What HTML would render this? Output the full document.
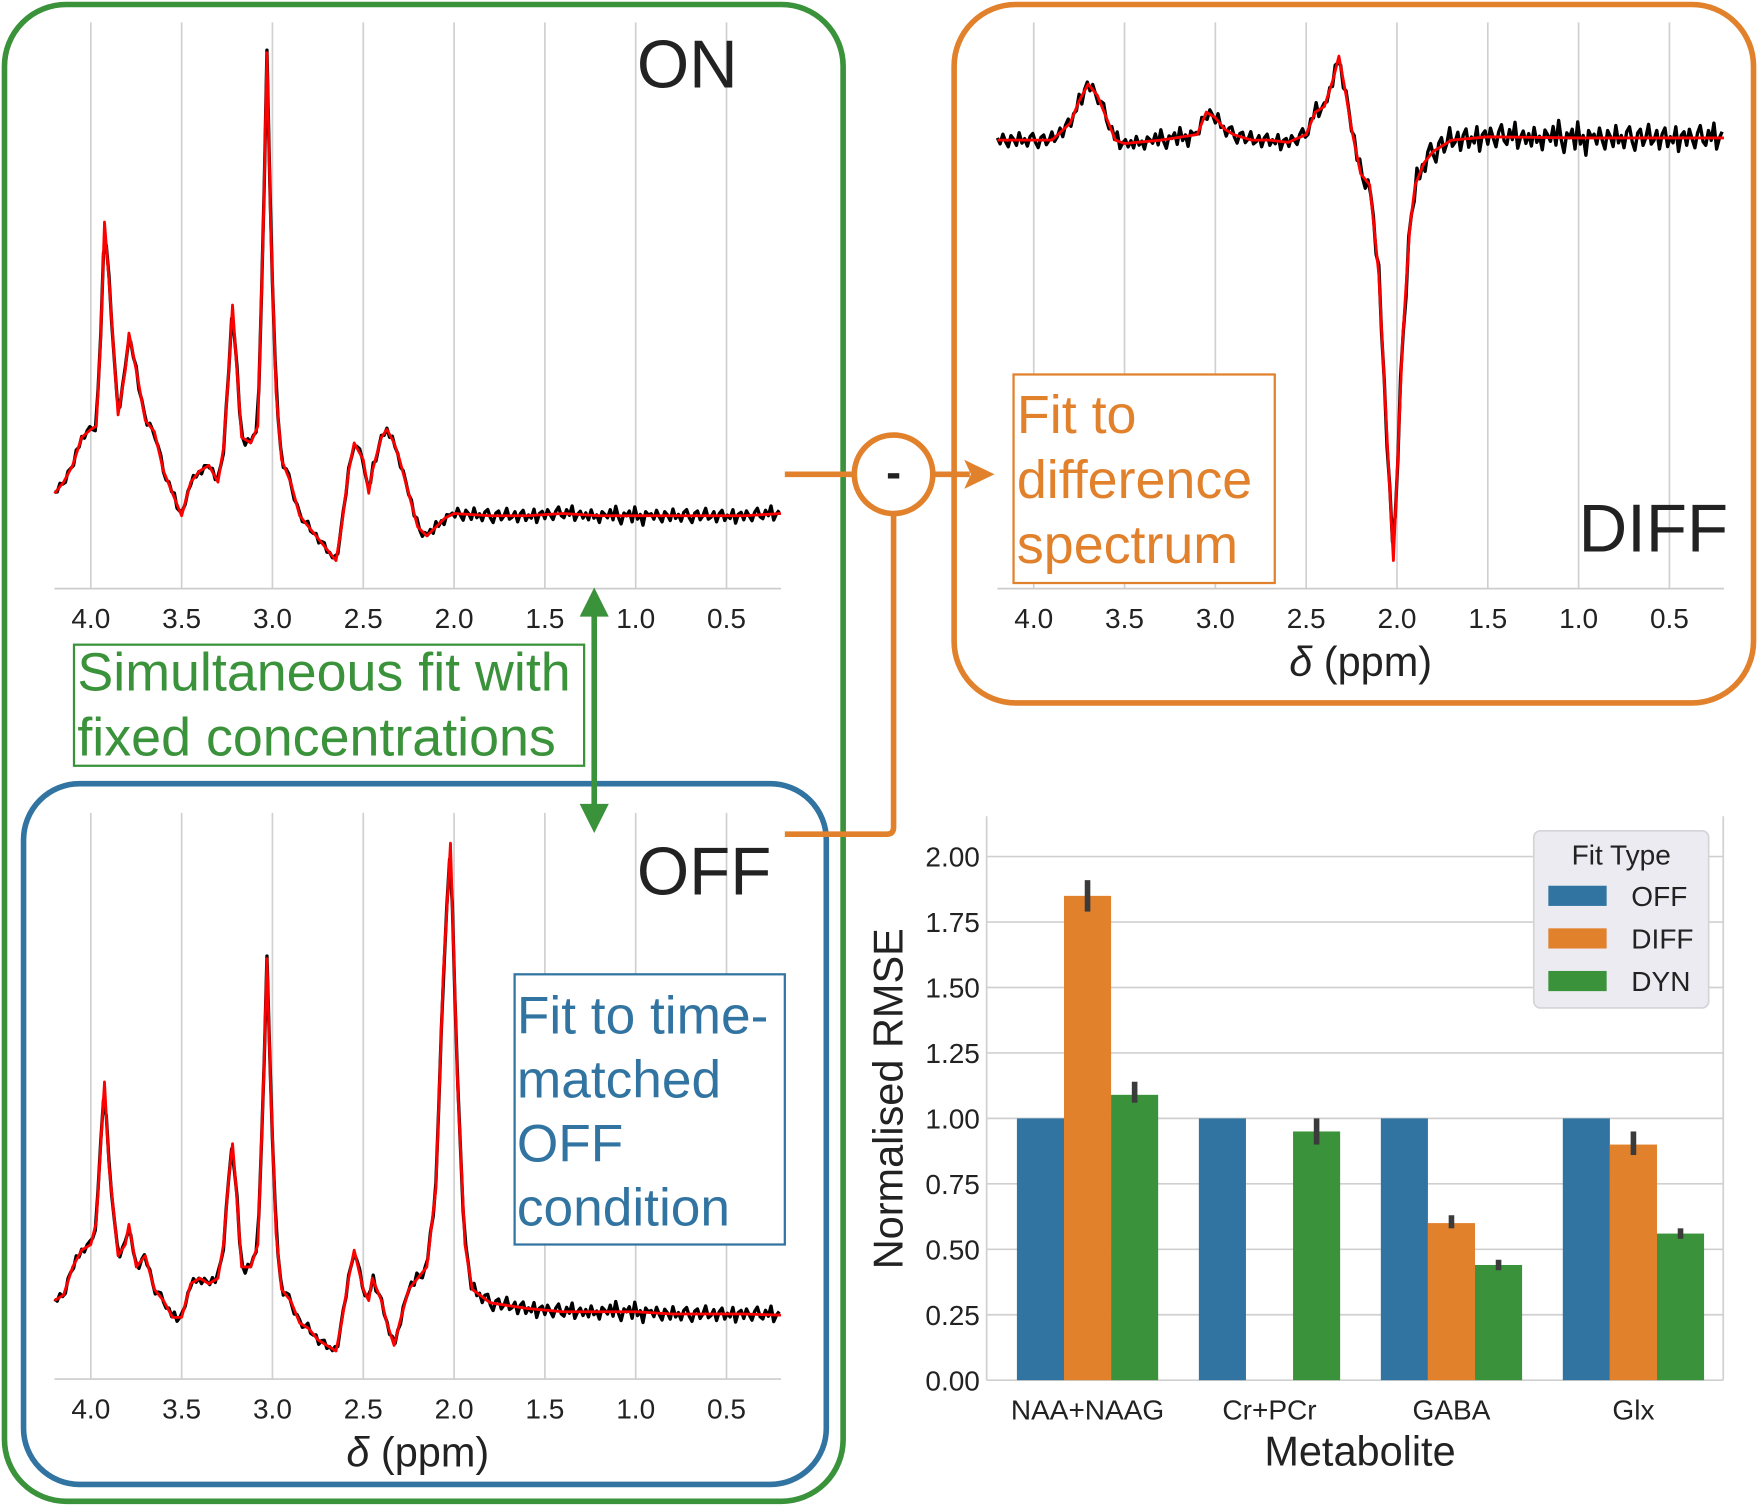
<!DOCTYPE html>
<html><head><meta charset="utf-8">
<style>
html,body{margin:0;padding:0;background:#fff;}
svg{display:block;font-family:"Liberation Sans",Arial,sans-serif;}
</style></head>
<body>
<svg id="fig" width="1758" height="1508" viewBox="0 0 1568 1345" xmlns="http://www.w3.org/2000/svg">
<g id="frames">
  <rect x="4" y="4" width="748" height="1335" rx="55" fill="none" stroke="#3a923a" stroke-width="5"/>
  <rect x="21" y="699" width="716" height="625" rx="50" fill="none" stroke="#3274a1" stroke-width="5"/>
  <rect x="851" y="4" width="713" height="623" rx="55" fill="none" stroke="#e1812c" stroke-width="5"/>
</g>
<g id="spectra"></g>
<g id="bars"></g>
<g id="annot">
  <text x="568" y="78" font-size="60" fill="#222">ON</text>
  <text x="568" y="798" font-size="60" fill="#222">OFF</text>
  <text x="1408" y="492" font-size="60" fill="#222">DIFF</text>
  <rect x="66" y="575" width="455" height="108" fill="#fff" stroke="#3a923a" stroke-width="2"/>
  <text x="69" y="616" font-size="48" fill="#3a923a"><tspan x="69">Simultaneous fit with</tspan><tspan x="69" dy="58">fixed concentrations</tspan></text>
  <rect x="904" y="334" width="233" height="186" fill="#fff" stroke="#e1812c" stroke-width="2"/>
  <text x="907" y="386" font-size="48" fill="#e1812c"><tspan x="907">Fit to</tspan><tspan x="907" dy="58">difference</tspan><tspan x="907" dy="58">spectrum</tspan></text>
  <rect x="459" y="869" width="241" height="241" fill="#fff" stroke="#3274a1" stroke-width="2"/>
  <text x="461" y="922" font-size="47.5" fill="#3274a1"><tspan x="461">Fit to time-</tspan><tspan x="461" dy="57">matched</tspan><tspan x="461" dy="57">OFF</tspan><tspan x="461" dy="57">condition</tspan></text>
  <path d="M700 423 H762 M832 423 H865 M700 744 H791 Q797 744 797 738 V458" fill="none" stroke="#e1812c" stroke-width="5"/>
  <polygon points="887,423 860,410 866,423 860,436" fill="#e1812c"/>
  <circle cx="797" cy="423" r="35" fill="#fff" stroke="#e1812c" stroke-width="5"/>
  <text x="797" y="435" font-size="40" font-weight="bold" fill="#222" text-anchor="middle">-</text>
  <line x1="530" y1="545" x2="530" y2="722" stroke="#3a923a" stroke-width="5"/>
  <polygon points="530,524 517,550 543,550" fill="#3a923a"/>
  <polygon points="530,743 517,717 543,717" fill="#3a923a"/>
</g>
</svg>
<script>
// ---- spectra data ----
const onPpm=[4.2,4.15,4.1,4.05,4.0,3.97,3.945,3.925,3.9,3.85,3.81,3.79,3.75,3.7,3.65,3.6,3.55,3.5,3.45,3.4,3.35,3.3,3.27,3.24,3.22,3.2,3.17,3.12,3.08,3.05,3.03,3.01,2.98,2.95,2.9,2.85,2.8,2.75,2.7,2.65,2.62,2.58,2.55,2.5,2.47,2.45,2.4,2.37,2.33,2.3,2.25,2.2,2.15,2.1,2.05,2.0,1.8,1.6,1.4,1.2,1.0,0.8,0.6,0.4,0.2];
const onFit=[20,30,45,70,77,80,160,262,210,90,130,163,130,85,75,40,20,0,30,40,45,30,60,130,188,140,70,65,80,260,413,260,110,50,30,0,-10,-20,-30,-40,-10,40,65,50,20,40,70,77,65,50,20,-10,-18,-10,-2,2,0,0,2,0,0,0,0,0,2];
const offPpm=[4.2,4.15,4.1,4.05,4.0,3.97,3.945,3.925,3.9,3.85,3.81,3.79,3.75,3.7,3.65,3.6,3.55,3.5,3.45,3.4,3.35,3.3,3.27,3.24,3.22,3.2,3.17,3.12,3.08,3.05,3.03,3.01,2.98,2.95,2.9,2.85,2.8,2.75,2.7,2.65,2.62,2.58,2.55,2.5,2.47,2.45,2.4,2.37,2.33,2.3,2.25,2.2,2.15,2.1,2.06,2.02,1.98,1.94,1.9,1.8,1.6,1.4,1.2,1.0,0.8,0.6,0.4,0.2];
const offFit=[10,15,40,55,60,80,150,205,130,50,60,78,40,50,20,10,-5,-5,25,30,25,30,60,120,150,110,40,40,60,200,315,200,70,20,10,-10,-15,-25,-30,-35,-10,30,55,20,10,30,10,-10,-30,-10,20,30,40,110,300,418,200,60,20,8,3,0,0,0,-2,-2,-2,-3];
const diffPpm=[4.2,4.1,4.0,3.9,3.8,3.75,3.7,3.65,3.6,3.55,3.5,3.3,3.1,3.05,3.0,2.95,2.9,2.8,2.7,2.6,2.5,2.45,2.4,2.35,2.32,2.28,2.25,2.2,2.15,2.1,2.05,2.02,2.0,1.97,1.93,1.9,1.85,1.8,1.7,1.5,1.0,0.5,0.2];
const diffFit=[0,0,0,0,15,35,50,40,20,0,-3,0,5,25,20,10,5,0,0,-2,5,25,30,55,75,40,10,-30,-40,-120,-280,-375,-300,-180,-80,-40,-20,-10,0,3,2,2,2];
const noise=[3,-5,8,-2,-9,6,1,-7,10,-4,2,-8,5,9,-3,-10,4,7,-6,0,11,-5,-2,6,-9,3,8,-7,1,-4,9,-11,2,5,-6,7,-1,-8,4,10,-3,-6,6,-2,12,-9,0,5,-5,3,-7,8,-4,1,-10,6,2,-3,9,-6,14,-2,-12,4,0,7,-9,13,-5,2,-14,6,1];
const xTicks=[4.0,3.5,3.0,2.5,2.0,1.5,1.0,0.5];
const xTickLabels=["4.0","3.5","3.0","2.5","2.0","1.5","1.0","0.5"];

// ---- bar data ----
const metabolites=["NAA+NAAG","Cr+PCr","GABA","Glx"];
const offVals=[1,1,1,1];
const diffVals=[1.85,null,0.6,0.9];
const diffErrLo=[1.79,null,0.58,0.86];
const diffErrHi=[1.91,null,0.63,0.95];
const dynVals=[1.09,0.95,0.44,0.56];
const dynErrLo=[1.06,0.9,0.42,0.54];
const dynErrHi=[1.14,1.0,0.46,0.58];
const yTickVals=[0,0.25,0.5,0.75,1.0,1.25,1.5,1.75,2.0];
const yTickLabels=["0.00","0.25","0.50","0.75","1.00","1.25","1.50","1.75","2.00"];
const legendLabels=["OFF","DIFF","DYN"];

const NS="http://www.w3.org/2000/svg";
function mk(tag,attrs,parent){const e=document.createElementNS(NS,tag);for(const k in attrs)e.setAttribute(k,attrs[k]);parent.appendChild(e);return e;}
function interp(ppm,vals,p){for(let i=0;i<ppm.length-1;i++){if(p<=ppm[i]&&p>=ppm[i+1]){const t=(ppm[i]-p)/(ppm[i]-ppm[i+1]);return vals[i]+t*(vals[i+1]-vals[i]);}}return vals[vals.length-1];}

function spectrum(name,x0,axisY,base,ppm,fit,noiseAmp,showXLabel){
  const g=mk('g',{},document.getElementById('spectra'));
  
  
  const X=p=>x0+(4.0-p)*162;
  const Y=v=>base-v;
  const top=axisY-505;
  xTicks.forEach((t,i)=>{
    const l=mk('line',{x1:X(t),x2:X(t),y1:top,y2:axisY,stroke:'#d0d0d0','stroke-width':1.5},g);
    
    
    const tx=mk('text',{x:X(t),y:axisY+35,'font-size':25,fill:'#222','text-anchor':'middle'},g);
    tx.textContent=xTickLabels[i];
    
    
  });
  const ax=mk('line',{x1:X(4.2),x2:X(0.2),y1:axisY,y2:axisY,stroke:'#ccc','stroke-width':1.5},g);
  
  
  let d='';let i=0;
  for(let p=4.2;p>=0.2-1e-9;p-=0.015){
    const amp=(p<2.0?noiseAmp:noiseAmp*0.6);
    const v=interp(ppm,fit,p)+noise[i%noise.length]*amp;
    d+=(i?'L':'M')+X(p).toFixed(1)+' '+Y(v).toFixed(1);i++;
  }
  const bl=mk('path',{d:d,fill:'none',stroke:'#000','stroke-width':3,'stroke-linejoin':'round'},g);
  
  
  let d2='';
  ppm.forEach((p,k)=>{d2+=(k?'L':'M')+X(p).toFixed(1)+' '+Y(fit[k]).toFixed(1);});
  const rl=mk('path',{d:d2,fill:'none',stroke:'#ff0000','stroke-width':2.5,'stroke-linejoin':'round'},g);
  
  
  if(showXLabel){
    const xl=mk('text',{x:X(2.2),y:axisY+78,'font-size':37,fill:'#222','text-anchor':'middle'},g);
    xl.innerHTML='<tspan font-style="italic">δ</tspan> (ppm)';
    
    
  }
}
spectrum('on',81,525,460,onPpm,onFit,0.6,false);
spectrum('off',81,1230,1170,offPpm,offFit,0.65,true);
spectrum('diff',922,525,125,diffPpm,diffFit,1.1,true);

// ---- bar chart ----
(function(){
  const g=document.getElementById('bars');
  
  
  const Y=v=>1231-v*233.5;
  const left=880,right=1537;
  yTickVals.forEach((t,i)=>{
    const l=mk('line',{x1:left,x2:right,y1:Y(t),y2:Y(t),stroke:'#d0d0d0','stroke-width':1.5},g);
    
    
    const tx=mk('text',{x:left-6,y:Y(t)+9,'font-size':25,fill:'#222','text-anchor':'end'},g);
    tx.textContent=yTickLabels[i];
    
    
  });
  [left,right].forEach(x=>{const l=mk('line',{x1:x,x2:x,y1:728,y2:1231,stroke:'#d0d0d0','stroke-width':1.5},g);
    
    });
  const cols=['#3274a1','#e1812c','#3a923a'];
  const bw=42;
  metabolites.forEach((m,i)=>{
    const cx=970+i*162.3;
    const series=[[offVals[i],null,null],[diffVals[i],diffErrLo[i],diffErrHi[i]],[dynVals[i],dynErrLo[i],dynErrHi[i]]];
    series.forEach((s,j)=>{
      if(s[0]==null)return;
      const x=cx-63+j*bw;
      const r=mk('rect',{x:x,y:Y(s[0]),width:bw,height:Y(0)-Y(s[0]),fill:cols[j]},g);
      
      
      if(s[1]!=null){
        const e=mk('line',{x1:x+bw/2,x2:x+bw/2,y1:Y(s[1]),y2:Y(s[2]),stroke:'#3b3b3b','stroke-width':5},g);
        
        
      }
    });
    const tx=mk('text',{x:cx,y:1266,'font-size':25,fill:'#222','text-anchor':'middle'},g);
    tx.textContent=m;
    
    
  });
  const xt=mk('text',{x:1213,y:1307,'font-size':37,fill:'#222','text-anchor':'middle'},g);
  xt.textContent='Metabolite';
  
  
  const yt=mk('text',{x:0,y:0,'font-size':37,fill:'#222','text-anchor':'middle',transform:'translate(805,980) rotate(-90)'},g);
  yt.textContent='Normalised RMSE';
  
  
  const lg=mk('g',{},g);
  
  
  mk('rect',{x:1368,y:741,width:156,height:158,rx:6,fill:'#ebebf1',stroke:'#d4d4d8','stroke-width':1.5},lg);
  const lt=mk('text',{x:1446,y:771,'font-size':25,fill:'#222','text-anchor':'middle'},lg);
  lt.textContent='Fit Type';
  
  
  legendLabels.forEach((n,j)=>{
    const y=790+j*38;
    const r=mk('rect',{x:1381,y:y,width:52,height:18,fill:cols[j]},lg);
    
    
    const t=mk('text',{x:1455,y:y+18,'font-size':25,fill:'#222'},lg);
    t.textContent=n;
    
    
  });
})();
</script>
</body></html>
